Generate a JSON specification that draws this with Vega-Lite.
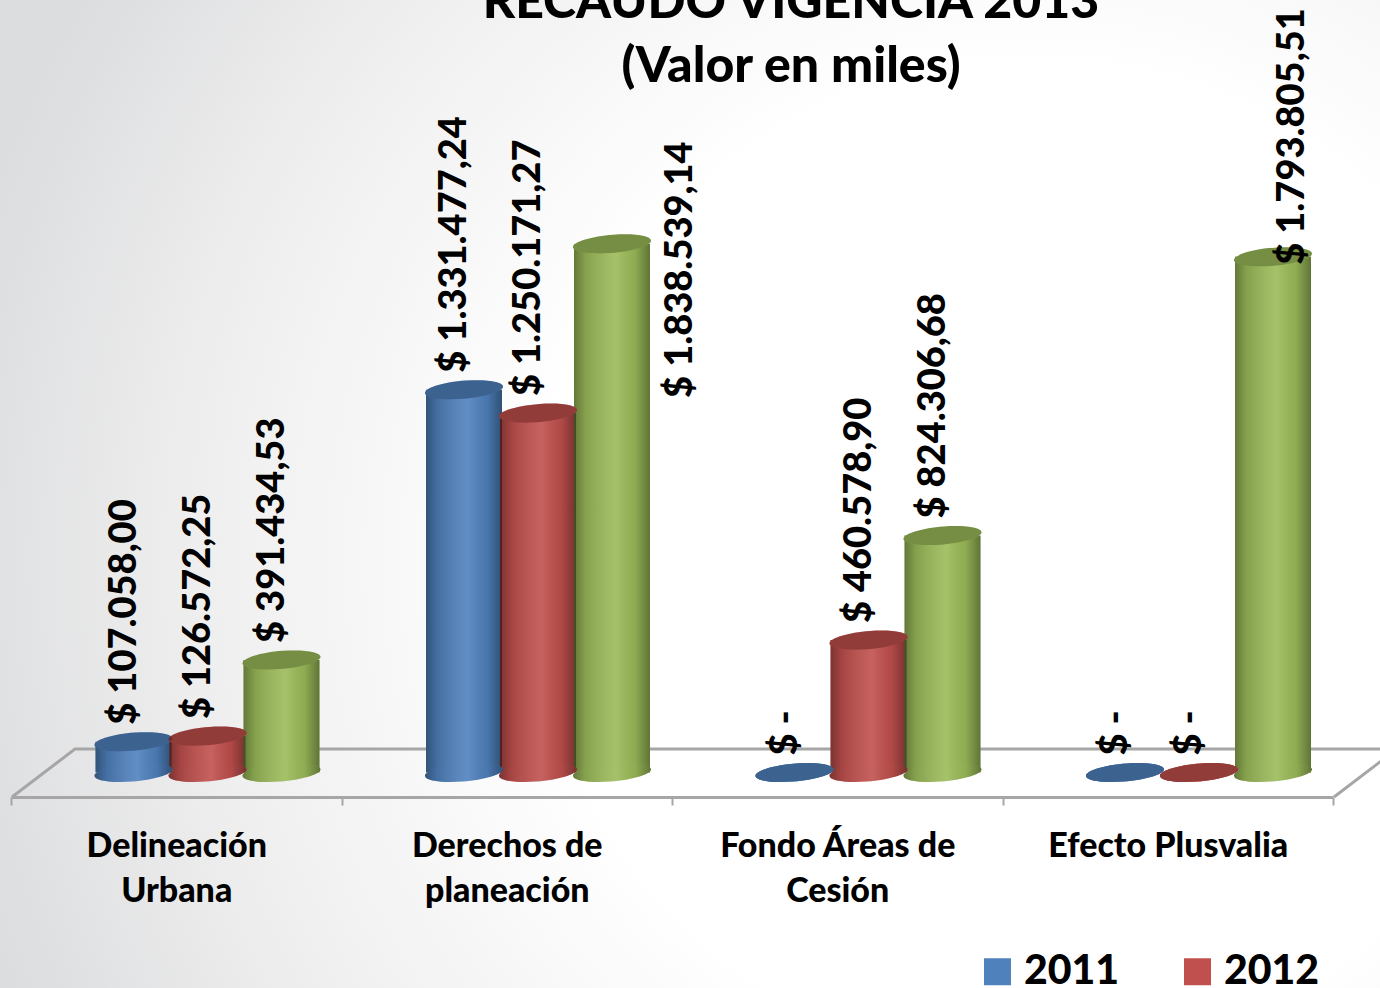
{
"$schema":"https://vega.github.io/schema/vega-lite/v6.json",
"width":1380,"height":988,"padding":0,"autosize":{"type":"none"},
"background":"white",
"view":{"stroke":null,"fill":{"gradient":"radial","x1":0.75,"y1":0.55,"r1":0,"x2":0.75,"y2":0.55,"r2":0.8,"stops":[{"offset":0,"color":"#ffffff"},{"offset":0.45,"color":"#ffffff"},{"offset":0.75,"color":"#efefef"},{"offset":1,"color":"#dcdddf"}]}},
"title":{"text":["RECAUDO VIGENCIA 2013","(Valor en miles)"],"font":"Lato","fontWeight":900,"fontSize":50,"lineHeight":64,"color":"#000000","anchor":"middle","dx":101,"offset":-92},
"datasets":{"recaudo":[
{"categoria":"Delineación Urbana","serie":"2011","valor":107058.00,"etiqueta":"$ 107.058,00"},
{"categoria":"Delineación Urbana","serie":"2012","valor":126572.25,"etiqueta":"$ 126.572,25"},
{"categoria":"Delineación Urbana","serie":"2013","valor":391434.53,"etiqueta":"$ 391.434,53"},
{"categoria":"Derechos de planeación","serie":"2011","valor":1331477.24,"etiqueta":"$ 1.331.477,24"},
{"categoria":"Derechos de planeación","serie":"2012","valor":1250171.27,"etiqueta":"$ 1.250.171,27"},
{"categoria":"Derechos de planeación","serie":"2013","valor":1838539.14,"etiqueta":"$ 1.838.539,14"},
{"categoria":"Fondo Áreas de Cesión","serie":"2011","valor":0,"etiqueta":"$ -"},
{"categoria":"Fondo Áreas de Cesión","serie":"2012","valor":460578.90,"etiqueta":"$ 460.578,90"},
{"categoria":"Fondo Áreas de Cesión","serie":"2013","valor":824306.68,"etiqueta":"$ 824.306,68"},
{"categoria":"Efecto Plusvalia","serie":"2011","valor":0,"etiqueta":"$ -"},
{"categoria":"Efecto Plusvalia","serie":"2012","valor":0,"etiqueta":"$ -"},
{"categoria":"Efecto Plusvalia","serie":"2013","valor":1793805.51,"etiqueta":"$ 1.793.805,51"}
],
"piso":[
{"orden":1,"tramo":0,"nivel":-85217},
{"orden":2,"tramo":0.1906,"nivel":81739},
{"orden":3,"tramo":4.1906,"nivel":81739},
{"orden":4,"tramo":4,"nivel":-85217}
]},
"resolve":{"scale":{"x":"independent"}},
"layer":[
{"data":{"name":"piso"},
 "mark":{"type":"line","color":"#a6a6a6","strokeWidth":3},
 "encoding":{
  "x":{"field":"tramo","type":"quantitative","axis":null,"scale":{"domain":[0,4],"range":[12,1334],"nice":false,"zero":false}},
  "y":{"field":"nivel","type":"quantitative","axis":null,"scale":{"domain":[-749565,2687000],"nice":false,"zero":false}},
  "order":{"field":"orden"}
 }},
{"data":{"name":"recaudo"},
 "encoding":{
  "x":{"field":"categoria","type":"nominal","sort":null,"title":null,"scale":{"range":[11,1333],"paddingInner":0,"paddingOuter":0},"axis":{"orient":"bottom","offset":-191,"tickBand":"extent","domainColor":"#a6a6a6","domainWidth":3,"tickColor":"#a6a6a6","tickWidth":2,"tickSize":8,"labelAngle":0,"labelFont":"Lato","labelFontWeight":900,"labelFontSize":34,"labelColor":"#000000","labelPadding":41,"labelLineHeight":45,"labelLimit":400,"labelBaseline":"middle","labelExpr":"datum.label == 'Delineación Urbana' ? ['Delineación','Urbana'] : datum.label == 'Derechos de planeación' ? ['Derechos de','planeación'] : datum.label == 'Fondo Áreas de Cesión' ? ['Fondo Áreas de','Cesión'] : datum.label"}},
  "xOffset":{"field":"serie","type":"nominal","scale":{"range":[85.5,307.5],"paddingInner":0,"paddingOuter":0}},
  "y":{"field":"valor","type":"quantitative","axis":null,"stack":null}
 },
 "layer":[
  {"mark":{"type":"bar","width":76},
   "encoding":{
    "color":{"field":"serie","type":"nominal","scale":{"domain":["2011","2012","2013"],"range":["#4f81bd","#c0504d","#9bbb59"]},"legend":{"orient":"none","legendX":977,"legendY":951,"direction":"horizontal","columns":3,"title":null,"symbolType":"square","symbolSize":729,"symbolStrokeWidth":0,"symbolOpacity":1,"labelFont":"Lato","labelFontWeight":900,"labelFontSize":41,"labelColor":"#000000","labelOffset":6,"columnPadding":57,"labelLimit":200}}
   }},
  {"mark":{"type":"bar","width":76,"fill":{"gradient":"linear","x1":0,"y1":0,"x2":1,"y2":0,"stops":[{"offset":0,"color":"rgba(0,0,0,0.36)"},{"offset":0.15,"color":"rgba(0,0,0,0.14)"},{"offset":0.55,"color":"rgba(255,255,255,0.1)"},{"offset":0.8,"color":"rgba(0,0,0,0.08)"},{"offset":1,"color":"rgba(0,0,0,0.38)"}]}},
   "encoding":{}},
  {"mark":{"type":"point","filled":true,"opacity":1,"size":6084,"shape":"M-1,0.075A1.003,0.23 -5 1 1 1,-0.075A1.003,0.23 -5 1 1 -1,0.075Z"},
   "encoding":{"y":{"datum":0},"color":{"field":"serie","type":"nominal","legend":null}}},
  {"mark":{"type":"point","filled":true,"opacity":1,"size":6084,"shape":"M-1,0.075A1.003,0.23 -5 1 1 1,-0.075A1.003,0.23 -5 1 1 -1,0.075Z","fill":{"gradient":"linear","x1":0,"y1":0,"x2":1,"y2":0,"stops":[{"offset":0,"color":"rgba(0,0,0,0.36)"},{"offset":0.15,"color":"rgba(0,0,0,0.14)"},{"offset":0.55,"color":"rgba(255,255,255,0.1)"},{"offset":0.8,"color":"rgba(0,0,0,0.08)"},{"offset":1,"color":"rgba(0,0,0,0.38)"}]}},
   "encoding":{"y":{"datum":0}}},
  {"mark":{"type":"point","filled":true,"opacity":1,"size":6084,"shape":"M-1,0.075A1.003,0.23 -5 1 1 1,-0.075A1.003,0.23 -5 1 1 -1,0.075Z"},
   "encoding":{"color":{"field":"serie","type":"nominal","legend":null}}},
  {"mark":{"type":"point","filled":true,"opacity":0.24,"size":6084,"color":"#000000","shape":"M-1,0.075A1.003,0.23 -5 1 1 1,-0.075A1.003,0.23 -5 1 1 -1,0.075Z"},
   "encoding":{}},
  {"transform":[{"filter":"datum.etiqueta != '$ 1.838.539,14' && datum.etiqueta != '$ 1.793.805,51'"}],
   "mark":{"type":"text","angle":270,"align":"left","baseline":"middle","dx":17,"dy":-9,"font":"Lato","fontWeight":900,"fontSize":38,"color":"#000000"},
   "encoding":{"text":{"field":"etiqueta"}}},
  {"transform":[{"filter":"datum.etiqueta == '$ 1.838.539,14'"}],
   "mark":{"type":"text","angle":270,"align":"left","baseline":"middle","dx":-154,"dy":69,"font":"Lato","fontWeight":900,"fontSize":38,"color":"#000000"},
   "encoding":{"text":{"field":"etiqueta"}}},
  {"transform":[{"filter":"datum.etiqueta == '$ 1.793.805,51'"}],
   "mark":{"type":"text","angle":270,"align":"left","baseline":"middle","dx":-8,"dy":20,"font":"Lato","fontWeight":900,"fontSize":38,"color":"#000000"},
   "encoding":{"text":{"field":"etiqueta"}}}
 ]}
]
}
